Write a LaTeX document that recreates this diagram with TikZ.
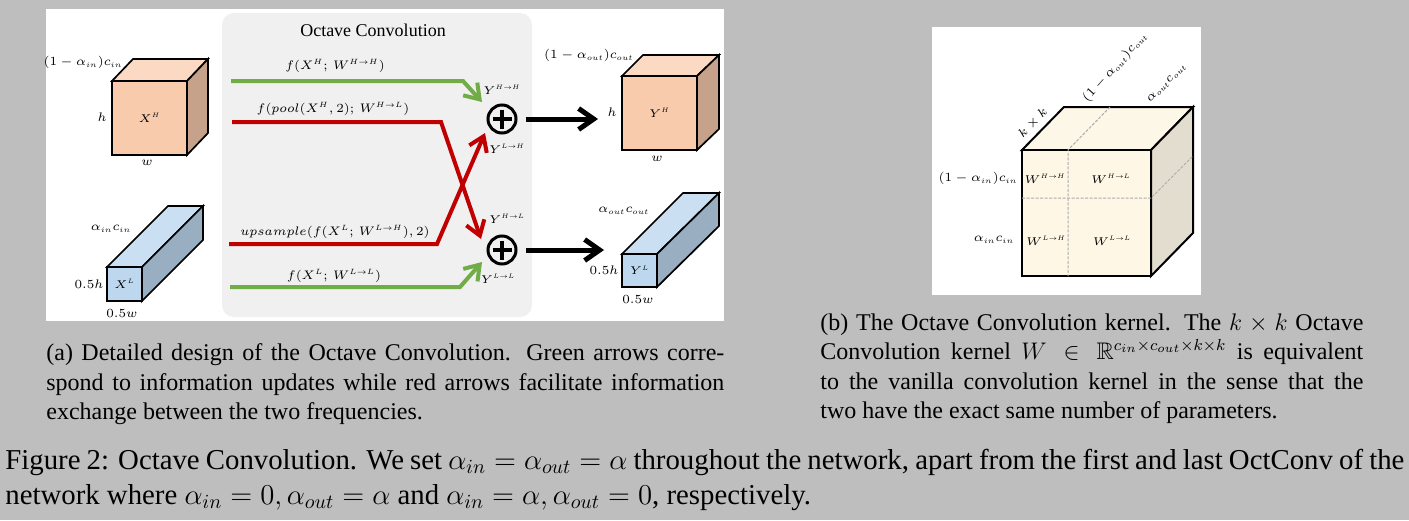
\RequirePackage{fix-cm}
\documentclass[tikz,border=0pt]{standalone}
\usepackage{amsmath,amssymb}
\usepackage{fontspec}
\setmainfont{Liberation Serif}
\usetikzlibrary{arrows.meta}
\DeclareMathSizes{6.2}{6.2}{3.8}{3}
\DeclareMathSizes{5.6}{5.6}{3.2}{2.8}
\newlength{\du}
\setlength{\du}{0.5pt}
\definecolor{pagegray}{RGB}{190,190,190}
\definecolor{panelgray}{RGB}{240,240,240}
\definecolor{hifront}{RGB}{248,203,173}
\definecolor{hitop}{RGB}{251,217,195}
\definecolor{hiside}{RGB}{198,162,138}
\definecolor{lofront}{RGB}{189,215,238}
\definecolor{lotop}{RGB}{203,223,242}
\definecolor{loside}{RGB}{154,174,194}
\definecolor{kerfront}{RGB}{254,247,230}
\definecolor{kertop}{RGB}{253,247,232}
\definecolor{kerside}{RGB}{226,221,206}
\definecolor{updategreen}{RGB}{112,173,71}
\definecolor{swapred}{RGB}{192,0,0}
\tikzset{
  facebox/.style={draw=black,line width=1.7\du,inner sep=0pt,font=\fontsize{5.6}{7}\selectfont},
  cubeface/.style={draw=black,line width=1.7\du,line join=miter},
  kerface/.style={draw=black,line width=2\du,line join=miter},
  lbl/.style={inner sep=0pt,font=\fontsize{6.2}{8}\selectfont},
  tinylbl/.style={inner sep=0pt,font=\fontsize{5.6}{7}\selectfont},
  capline/.style={anchor=base west,inner sep=0pt,font=\fontsize{12}{14}\selectfont},
  figline/.style={anchor=base west,inner sep=0pt,font=\fontsize{14.4}{16}\selectfont},
  flowgreen/.style={draw=updategreen,line width=4\du,-{Straight Barb[length=7pt,width=9.5pt]}},
  flowred/.style={draw=swapred,line width=4\du,-{Straight Barb[length=7pt,width=9.5pt]}},
  flowblack/.style={draw=black,line width=5\du,-{Straight Barb[length=7.5pt,width=10.5pt]}},
  plusnode/.style={circle,draw=black,line width=3\du,minimum size=28\du,inner sep=0pt},
  plusbar/.style={line width=3.2\du},
  kerdash/.style={draw=black!33,line width=1\du,dash pattern=on 3\du off 1.5\du},
}
\newcommand{\fitline}[2]{\makebox[#1\du][s]{#2}}
\begin{document}
\begin{tikzpicture}
\pgftransformyscale{-1.000000}
\useasboundingbox (0\du,0\du) rectangle (1409\du,520\du);
\fill[pagegray] (0\du,0\du) rectangle (1409\du,520\du);
\fill[white] (46\du,9\du) rectangle (724\du,321\du);
\fill[white] (932\du,27\du) rectangle (1201\du,295\du);
\fill[panelgray,rounded corners=12\du] (222\du,13\du) rectangle (532\du,317\du);
\node[lbl,font=\fontsize{9}{10}\selectfont] (octtitle) at (373\du,30\du){Octave Convolution};
% input cubes
\draw[cubeface,fill=hitop] (112\du,81\du)--(133\du,59\du)--(208\du,59\du)--(187\du,81\du)--cycle;
\draw[cubeface,fill=hiside] (187\du,81\du)--(208\du,59\du)--(208\du,133\du)--(187\du,155\du)--cycle;
\node[facebox,fill=hifront,minimum width=75\du,minimum height=74\du] (xhigh) at (149.5\du,118\du){$X^H$};
\draw[cubeface,fill=lotop] (107\du,267\du)--(168\du,206\du)--(203\du,206\du)--(142\du,267\du)--cycle;
\draw[cubeface,fill=loside] (142\du,267\du)--(203\du,206\du)--(203\du,240\du)--(142\du,301\du)--cycle;
\node[facebox,fill=lofront,minimum width=35\du,minimum height=34\du] (xlow) at (124.5\du,284\du){$X^L$};
\node[lbl] (cinhigh) at (83\du,62\du){$(1-\alpha_{in})c_{in}$};
\node[lbl] (hleft) at (102\du,117\du){$h$};
\node[lbl] (wleft) at (147\du,163\du){$w$};
\node[lbl] (cinlow) at (111\du,229\du){$\alpha_{in}c_{in}$};
\node[lbl] (hlowleft) at (89\du,284\du){$0.5h$};
\node[lbl] (wlowleft) at (122\du,313\du){$0.5w$};
% sums
\node[plusnode] (sumhigh) at (502\du,119\du){};
\node[plusnode] (sumlow) at (502\du,250\du){};
\draw[plusbar] ([xshift=-9.5\du]sumhigh.center)--([xshift=9.5\du]sumhigh.center);
\draw[plusbar] ([yshift=-9.5\du]sumhigh.center)--([yshift=9.5\du]sumhigh.center);
\draw[plusbar] ([xshift=-9.5\du]sumlow.center)--([xshift=9.5\du]sumlow.center);
\draw[plusbar] ([yshift=-9.5\du]sumlow.center)--([yshift=9.5\du]sumlow.center);
% flows
\coordinate (hhstart) at (231\du,81\du);
\coordinate (hhbend) at (463\du,81\du);
\coordinate (hhend) at (482\du,102\du);
\coordinate (hlstart) at (232\du,122\du);
\coordinate (hlbend) at (441\du,122\du);
\coordinate (hlend) at (481\du,239\du);
\coordinate (lhstart) at (229\du,244\du);
\coordinate (lhbend) at (437\du,244\du);
\coordinate (lhend) at (485\du,133\du);
\coordinate (llstart) at (230\du,287\du);
\coordinate (llbend) at (460\du,287\du);
\coordinate (llend) at (482\du,262\du);
\coordinate (outhigh) at (598\du,119\du);
\coordinate (outlow) at (604\du,250\du);
\draw[flowgreen] (hhstart)--(hhbend)--(hhend);
\draw[flowred] (hlstart)--(hlbend)--(hlend);
\draw[flowred] (lhstart)--(lhbend)--(lhend);
\draw[flowgreen] (llstart)--(llbend)--(llend);
\draw[flowblack] ([xshift=8\du]sumhigh.east)--(outhigh);
\draw[flowblack] ([xshift=8\du]sumlow.east)--(outlow);
\node[lbl] (fhh) at (335\du,66\du){$f(X^H;\,W^{H\to H})$};
\node[lbl] (fhl) at (333\du,109\du){$f(pool(X^H,2);\,W^{H\to L})$};
\node[lbl] (flh) at (335\du,232\du){$upsample(f(X^L;\,W^{L\to H}),2)$};
\node[lbl] (fll) at (334\du,276\du){$f(X^L;\,W^{L\to L})$};
\node[tinylbl] (yhh) at (502\du,90\du){$Y^{H\to H}$};
\node[tinylbl] (ylh) at (507\du,149\du){$Y^{L\to H}$};
\node[tinylbl] (yhl) at (507\du,219\du){$Y^{H\to L}$};
\node[tinylbl] (yll) at (498\du,279\du){$Y^{L\to L}$};
% output cubes
\draw[cubeface,fill=hitop] (622\du,76\du)--(643\du,55\du)--(719\du,55\du)--(697\du,76\du)--cycle;
\draw[cubeface,fill=hiside] (697\du,76\du)--(719\du,55\du)--(719\du,129\du)--(697\du,150\du)--cycle;
\node[facebox,fill=hifront,minimum width=75\du,minimum height=74\du] (yhigh) at (659.5\du,113\du){$Y^H$};
\draw[cubeface,fill=lotop] (622\du,254\du)--(683\du,193\du)--(719\du,193\du)--(657\du,254\du)--cycle;
\draw[cubeface,fill=loside] (657\du,254\du)--(719\du,193\du)--(719\du,226\du)--(657\du,287\du)--cycle;
\node[facebox,fill=lofront,minimum width=35\du,minimum height=33\du] (ylow) at (639.5\du,270.5\du){$Y^L$};
\node[lbl] (couthigh) at (589\du,55\du){$(1-\alpha_{out})c_{out}$};
\node[lbl] (hright) at (612\du,112\du){$h$};
\node[lbl] (wright) at (657\du,159\du){$w$};
\node[lbl] (coutlow) at (624\du,211\du){$\alpha_{out}c_{out}$};
\node[lbl] (hlowright) at (604\du,270\du){$0.5h$};
\node[lbl] (wlowright) at (638\du,299\du){$0.5w$};
% kernel cube
\draw[kerface,fill=kertop] (1022\du,150\du)--(1064\du,107\du)--(1193\du,107\du)--(1151\du,150\du)--cycle;
\draw[kerface,fill=kerside] (1151\du,150\du)--(1193\du,107\du)--(1193\du,233\du)--(1151\du,276\du)--cycle;
\node[facebox,line width=2\du,fill=kerfront,minimum width=129\du,minimum height=126\du] (kernel) at (1086.5\du,213\du){};
\coordinate (kertopa) at (1068\du,150\du);
\coordinate (kertopb) at (1110\du,107\du);
\coordinate (kerbot) at (1068\du,276\du);
\coordinate (kerleft) at (1022\du,198\du);
\coordinate (kermid) at (1151\du,198\du);
\coordinate (kerback) at (1193\du,156\du);
\draw[kerdash] (kertopb)--(kertopa)--(kerbot);
\draw[kerdash] (kerleft)--(kermid)--(kerback);
\node[tinylbl] (whh) at (1045\du,179\du){$W^{H\to H}$};
\node[tinylbl] (whl) at (1111\du,179\du){$W^{H\to L}$};
\node[tinylbl] (wlh) at (1046\du,241\du){$W^{L\to H}$};
\node[tinylbl] (wll) at (1112\du,241\du){$W^{L\to L}$};
\node[lbl] (kerinhigh) at (978\du,178\du){$(1-\alpha_{in})c_{in}$};
\node[lbl] (kerinlow) at (994\du,240\du){$\alpha_{in}c_{in}$};
\node[lbl,rotate=45] (kersize) at (1033\du,123\du){$k\times k$};
\node[lbl,rotate=48] (keroutlow) at (1115\du,67\du){$(1-\alpha_{out})c_{out}$};
\node[lbl,rotate=45] (kerouthigh) at (1167\du,83\du){$\alpha_{out}c_{out}$};
% captions
\node[capline] (capa1) at (46\du,360\du){\fitline{678}{(a) Detailed design of the Octave Convolution. Green arrows corre-}};
\node[capline] (capa2) at (46\du,390\du){\fitline{678}{spond to information updates while red arrows facilitate information}};
\node[capline] (capa3) at (46\du,419\du){exchange between the two frequencies.};
\node[capline] (capb1) at (820\du,330\du){\fitline{543}{(b) The Octave Convolution kernel. The $k\times k$ Octave}};
\node[capline] (capb2) at (820\du,359\du){\fitline{543}{Convolution kernel $W\in\mathbb{R}^{c_{in}\times c_{out}\times k\times k}$ is equivalent}};
\node[capline] (capb3) at (820\du,389\du){\fitline{543}{to the vanilla convolution kernel in the sense that the}};
\node[capline] (capb4) at (820\du,418\du){two have the exact same number of parameters.};
\node[figline] (figa) at (5\du,469\du){\fitline{1399}{Figure 2: Octave Convolution. We set $\alpha_{in}=\alpha_{out}=\alpha$ throughout the network, apart from the first and last OctConv of the}};
\node[figline] (figb) at (5\du,504\du){network where $\alpha_{in}=0,\alpha_{out}=\alpha$ and $\alpha_{in}=\alpha,\alpha_{out}=0$, respectively.};
\end{tikzpicture}
\end{document}
